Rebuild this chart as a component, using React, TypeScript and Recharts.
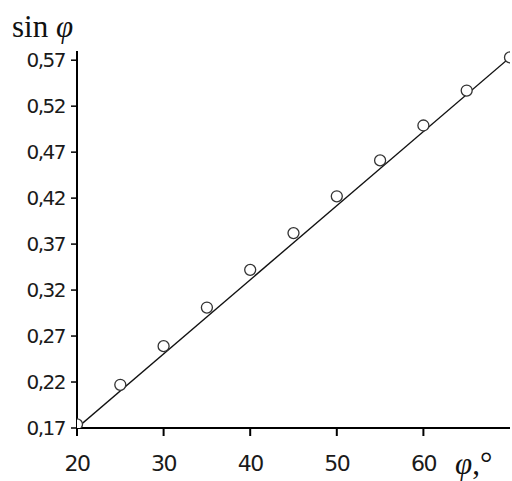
import { ComposedChart, Scatter, Line, XAxis, YAxis } from "recharts"

const phi = [20, 25, 30, 35, 40, 45, 50, 55, 60, 65, 70]
const sinPhi = [0.174, 0.217, 0.259, 0.301, 0.342, 0.382, 0.422, 0.461, 0.499, 0.537, 0.573]
const fitPhi = [20, 70]
const fitSin = [0.170, 0.573]
const xTicks = [20, 30, 40, 50, 60]
const yTicks = [0.17, 0.22, 0.27, 0.32, 0.37, 0.42, 0.47, 0.52, 0.57]

const points = phi.map((p, i) => ({ phi: p, s: sinPhi[i] }))
const fit = fitPhi.map((p, i) => ({ phi: p, f: fitSin[i] }))

const tickFont = "'DejaVu Sans', Verdana, sans-serif"
const serif = "'Liberation Serif', 'DejaVu Serif', serif"

const XTick = ({ x, y, payload }: any) => (
  <text x={x} y={y + 33} textAnchor="middle" fontFamily={tickFont} fontSize={22} fill="#1a1a1a" letterSpacing={-1.5}>
    {payload.value}
  </text>
)

const YTick = ({ x, y, payload }: any) => (
  <text x={x - 4} y={y + 7} textAnchor="end" fontFamily={tickFont} fontSize={20} fill="#1a1a1a" letterSpacing={-1.5}>
    {payload.value.toFixed(2).replace(".", ",")}
  </text>
)

const Ring = ({ cx, cy }: any) => (
  <circle cx={cx} cy={cy} r={5.5} fill="#fff" stroke="#333" strokeWidth={1.3} />
)

export default function App() {
  return (
    <div style={{ position: "absolute", left: 0, top: 0, width: 512, height: 481, background: "#fff" }}>
      <ComposedChart width={512} height={481} margin={{ top: 51, right: 2, bottom: 0, left: 0 }}>
        <XAxis
          type="number"
          dataKey="phi"
          domain={[20, 70]}
          ticks={xTicks}
          tick={<XTick />}
          tickSize={8}
          axisLine={{ stroke: "#000", strokeWidth: 2 }}
          tickLine={{ stroke: "#000", strokeWidth: 2 }}
          height={53}
          allowDataOverflow
        />
        <YAxis
          type="number"
          domain={[0.17, 0.58]}
          ticks={yTicks}
          tick={<YTick />}
          tickSize={6}
          width={77}
          axisLine={{ stroke: "#000", strokeWidth: 2 }}
          tickLine={{ stroke: "#000", strokeWidth: 1.5 }}
          allowDataOverflow
        />
        <Line data={fit} dataKey="f" type="linear" stroke="#111" strokeWidth={1.4} dot={false} isAnimationActive={false} />
        <Scatter data={points} dataKey="s" shape={<Ring />} isAnimationActive={false} />
        <text x={12} y={37} fontFamily={serif} fontSize={31} fill="#111">
          sin <tspan fontStyle="italic">φ</tspan>
        </text>
        <text x={455} y={474} fontFamily={serif} fontSize={31} fill="#111">
          <tspan fontStyle="italic">φ</tspan>,°
        </text>
      </ComposedChart>
    </div>
  )
}
